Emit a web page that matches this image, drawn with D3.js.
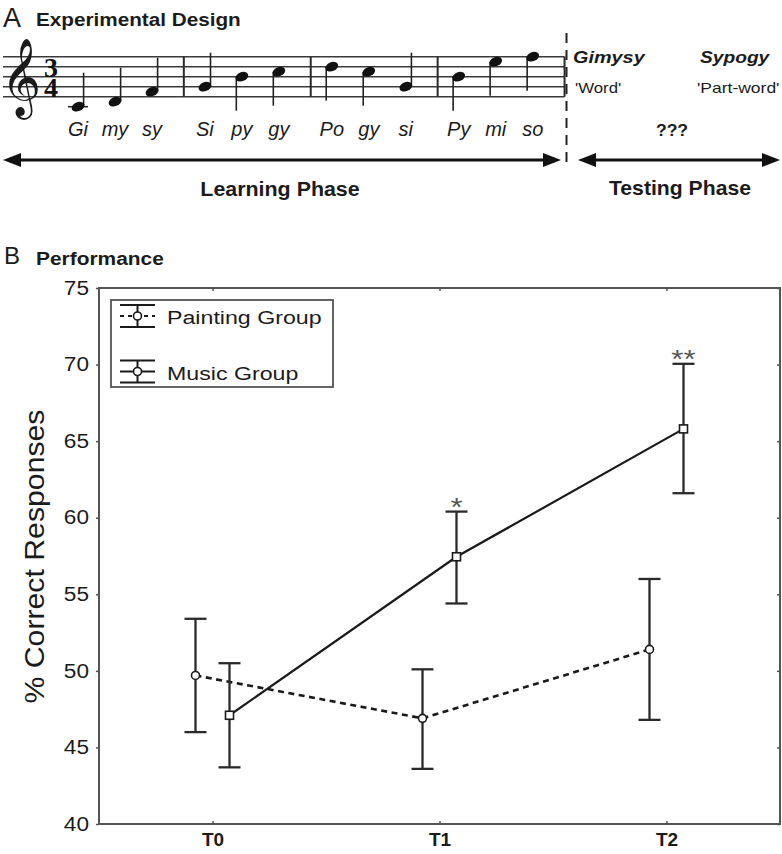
<!DOCTYPE html>
<html><head><meta charset="utf-8">
<script src="https://cdn.jsdelivr.net/npm/d3@7"></script>
<style>body{margin:0;background:#fff}</style>
</head><body>
<svg id="c" width="782" height="854"></svg>
<script>
// ---------- data ----------
const timepoints = ["T0", "T1", "T2"];
const paintingMean  = [49.7, 46.9, 51.4];
const paintingUpper = [53.4, 50.1, 56.0];
const paintingLower = [46.0, 43.6, 46.8];
const musicMean  = [47.1, 57.45, 65.8];
const musicUpper = [50.5, 60.4, 70.05];
const musicLower = [43.7, 54.4, 61.6];
const yTicks = [40, 45, 50, 55, 60, 65, 70, 75];
const significance = ["", "*", "**"];
const groupNames = ["Painting Group", "Music Group"];
// panel A melody
const syllables  = ["Gi","my","sy","Si","py","gy","Po","gy","si","Py","mi","so"];
const pitchSteps = [-2, -1, 1, 2, 4, 5, 6, 5, 2, 4, 7, 8]; // staff steps above bottom line (E4)
const timeSignature = ["3", "4"];
const testItems  = ["Gimysy", "Sypogy"];
const testTypes  = ["'Word'", "'Part-word'"];

const FONT = "'Liberation Sans', Arial, Helvetica, sans-serif";
const INK = "#1b1b1b";
const svg = d3.select("#c");

function label(g, o) {
  const t = g.append("text")
    .attr("transform", `translate(${o.x},${o.y})${o.rotate ? ` rotate(${o.rotate})` : ""} scale(${o.sx || 1},1)`)
    .attr("font-family", o.family || FONT)
    .attr("font-size", o.size)
    .attr("font-weight", o.weight || "normal")
    .attr("font-style", o.style || "normal")
    .attr("text-anchor", o.anchor || "start")
    .attr("fill", o.fill || INK)
    .text(o.text);
  if (o.dy) t.attr("dy", o.dy);
  return t;
}

// ================= Panel A =================
const A = svg.append("g");
label(A, {x: 3, y: 27, text: "A", size: 27});
label(A, {x: 36, y: 26, text: "Experimental Design", size: 19, weight: "bold", sx: 1.09});

const yStaff = d3.scaleLinear().domain([0, 8]).range([96.7, 56.7]);
const slot = (m, i) => m * 3.43 + i;
const xNote = d3.scaleLinear().domain([0, 1]).range([78, 115]);
const barX = m => xNote(slot(m, 2) + 0.86);

// staff lines
for (let k = 0; k <= 8; k += 2) {
  A.append("line").attr("x1", 3).attr("x2", barX(3))
    .attr("y1", yStaff(k)).attr("y2", yStaff(k))
    .attr("stroke", "#3a3a3a").attr("stroke-width", 1.6);
}
// bar lines
for (let m = 0; m < 4; m++) {
  A.append("line").attr("x1", barX(m)).attr("x2", barX(m))
    .attr("y1", yStaff(8)).attr("y2", yStaff(0))
    .attr("stroke", "#2a2a2a").attr("stroke-width", 2);
}
// clef
label(A, {x: 1, y: 100, text: "\u{1D11E}", size: 68, family: "'DejaVu Sans', 'Noto Sans Symbols 2', serif"});
// time signature (one text, two stacked digits)
const ts = A.append("text").attr("font-family", "'Liberation Serif', 'DejaVu Serif', serif")
  .attr("font-size", 28).attr("font-weight", "bold").attr("text-anchor", "middle").attr("fill", "#111");
ts.append("tspan").attr("x", 51).attr("y", yStaff(4)).text(timeSignature[0]);
ts.append("tspan").attr("x", 51).attr("y", yStaff(0)).text(timeSignature[1]);

// notes
syllables.forEach((s, n) => {
  const m = Math.floor(n / 3), i = n % 3;
  const x = xNote(slot(m, i));
  const st = pitchSteps[n];
  const y = yStaff(st);
  if (st <= -2) {
    A.append("line").attr("x1", x - 10).attr("x2", x + 10)
      .attr("y1", yStaff(-2)).attr("y2", yStaff(-2))
      .attr("stroke", "#2a2a2a").attr("stroke-width", 1.6);
  }
  const up = st < 4;
  const sxp = up ? x + 5.6 : x - 5.6;
  A.append("line").attr("x1", sxp).attr("x2", sxp)
    .attr("y1", y).attr("y2", up ? y - 34 : y + 34)
    .attr("stroke", "#222").attr("stroke-width", 1.6);
  A.append("ellipse").attr("cx", x).attr("cy", y).attr("rx", 6.6).attr("ry", 4.5)
    .attr("transform", `rotate(-22,${x},${y})`).attr("fill", "#111");
  label(A, {x: x, y: 136, text: s, size: 20, style: "italic", anchor: "middle"});
});

// dashed divider
A.append("line").attr("x1", 566.5).attr("x2", 566.5).attr("y1", 33).attr("y2", 168)
  .attr("stroke", "#222").attr("stroke-width", 2).attr("stroke-dasharray", "10,7");

// test items
label(A, {x: 573, y: 63, text: testItems[0], size: 16, weight: "bold", style: "italic", sx: 1.24});
label(A, {x: 700, y: 63, text: testItems[1], size: 16, weight: "bold", style: "italic", sx: 1.2});
label(A, {x: 575, y: 93, text: testTypes[0], size: 14, sx: 1.2});
label(A, {x: 697, y: 93, text: testTypes[1], size: 14, sx: 1.25});
label(A, {x: 672, y: 136, text: "???", size: 16, weight: "bold", anchor: "middle", sx: 1.1});

// arrows
function dblArrow(g, x1, x2, y) {
  g.append("line").attr("x1", x1 + 10).attr("x2", x2 - 10).attr("y1", y).attr("y2", y)
    .attr("stroke", "#111").attr("stroke-width", 3);
  g.append("path").attr("d", `M${x1},${y} L${x1 + 18},${y - 7} L${x1 + 18},${y + 7} Z`).attr("fill", "#111");
  g.append("path").attr("d", `M${x2},${y} L${x2 - 18},${y - 7} L${x2 - 18},${y + 7} Z`).attr("fill", "#111");
}
dblArrow(A, 3, 561, 160);
dblArrow(A, 578, 780, 160);
label(A, {x: 280, y: 196, text: "Learning Phase", size: 20, weight: "bold", anchor: "middle", sx: 1.07});
label(A, {x: 680, y: 195, text: "Testing Phase", size: 20, weight: "bold", anchor: "middle", sx: 1.06});

// ================= Panel B =================
const B = svg.append("g");
label(B, {x: 4, y: 264, text: "B", size: 24});
label(B, {x: 36, y: 265, text: "Performance", size: 19, weight: "bold", sx: 1.1});

const L = 99, R = 780, T = 288, Bt = 824;
const x = d3.scalePoint().domain(timepoints).range([L, R]).padding(0.5);
const y = d3.scaleLinear().domain([40, 75]).range([Bt, T]);
const AX = "#555";

// frame
B.append("rect").attr("x", L).attr("y", T).attr("width", R - L).attr("height", Bt - T)
  .attr("fill", "none").attr("stroke", AX).attr("stroke-width", 2);

const gl = B.append("g").attr("transform", `translate(${L},0)`)
  .call(d3.axisLeft(y).tickValues(yTicks).tickSize(3).tickFormat(d3.format("d")));
gl.select(".domain").remove();
gl.selectAll("line").attr("stroke", AX).attr("stroke-width", 1.5);
gl.selectAll("text").attr("x", -10 / 1.16).attr("transform", "scale(1.16,1)")
  .attr("font-family", FONT).attr("font-size", 19.5).attr("fill", INK);

const gr = B.append("g").attr("transform", `translate(${R},0)`)
  .call(d3.axisRight(y).tickValues(yTicks).tickSize(-3).tickFormat(""));
gr.select(".domain").remove();
gr.selectAll("line").attr("stroke", AX).attr("stroke-width", 1.5);

const gt = B.append("g").attr("transform", `translate(0,${T})`)
  .call(d3.axisTop(x).tickSize(-3).tickFormat(""));
gt.select(".domain").remove();
gt.selectAll("line").attr("stroke", AX).attr("stroke-width", 1.5);

const gb = B.append("g").attr("transform", `translate(0,${Bt})`)
  .call(d3.axisBottom(x).tickSize(-3).tickPadding(10));
gb.select(".domain").remove();
gb.selectAll("line").attr("stroke", AX).attr("stroke-width", 1.5);
gb.selectAll("text").attr("font-family", FONT).attr("font-size", 19)
  .attr("font-weight", "bold").attr("fill", INK).attr("y", 9);

// y label
label(B, {x: 44, y: 556.5, rotate: -90, text: "% Correct Responses", size: 28, anchor: "middle", sx: 1.08});

// series
const OFF = 17;
const series = [
  {mean: paintingMean, up: paintingUpper, lo: paintingLower, dx: -OFF, dash: "6,4.5", marker: "circle"},
  {mean: musicMean, up: musicUpper, lo: musicLower, dx: OFF, dash: null, marker: "square"}
];
const CAP = 11;
series.forEach(s => {
  const pts = timepoints.map((t, i) => ({t, i, cx: x(t) + s.dx}));
  // error bars
  pts.forEach(p => {
    const yU = y(s.up[p.i]), yL = y(s.lo[p.i]);
    B.append("line").attr("x1", p.cx).attr("x2", p.cx).attr("y1", yU).attr("y2", yL)
      .attr("stroke", "#2a2a2a").attr("stroke-width", 2.3);
    [yU, yL].forEach(yy => B.append("line").attr("x1", p.cx - CAP).attr("x2", p.cx + CAP)
      .attr("y1", yy).attr("y2", yy).attr("stroke", "#2a2a2a").attr("stroke-width", 2.3));
  });
  // line
  const ln = d3.line().x(p => p.cx).y(p => y(s.mean[p.i]));
  const path = B.append("path").attr("d", ln(pts)).attr("fill", "none")
    .attr("stroke", "#1a1a1a").attr("stroke-width", 2.2);
  if (s.dash) path.attr("stroke-dasharray", s.dash).attr("stroke-width", 2.6);
  // markers
  pts.forEach(p => {
    const cy = y(s.mean[p.i]);
    if (s.marker === "circle") {
      B.append("circle").attr("cx", p.cx).attr("cy", cy).attr("r", 4)
        .attr("fill", "#fff").attr("stroke", "#1a1a1a").attr("stroke-width", 1.6);
    } else {
      B.append("rect").attr("x", p.cx - 4).attr("y", cy - 4).attr("width", 8).attr("height", 8)
        .attr("fill", "#fff").attr("stroke", "#1a1a1a").attr("stroke-width", 1.6);
    }
  });
});

// significance stars (music group)
timepoints.forEach((t, i) => {
  if (!significance[i]) return;
  label(B, {x: x(t) + OFF, y: y(musicUpper[i]) + 4, text: significance[i], size: 26,
    anchor: "middle", fill: "#555", sx: 1.2});
});

// legend
B.append("rect").attr("x", 111).attr("y", 300).attr("width", 222).attr("height", 87)
  .attr("fill", "#fff").attr("stroke", AX).attr("stroke-width", 1.8);
const legendRows = [
  {name: groupNames[0], yc: 316, dash: "4,4"},
  {name: groupNames[1], yc: 371.5, dash: null}
];
legendRows.forEach(r => {
  const cx = 137.5;
  const h = B.append("line").attr("x1", 120).attr("x2", 155).attr("y1", r.yc).attr("y2", r.yc)
    .attr("stroke", "#1a1a1a").attr("stroke-width", 1.8);
  if (r.dash) h.attr("stroke-dasharray", r.dash);
  B.append("line").attr("x1", cx).attr("x2", cx).attr("y1", r.yc - 11).attr("y2", r.yc + 11)
    .attr("stroke", "#1a1a1a").attr("stroke-width", 2);
  [r.yc - 11, r.yc + 11].forEach(yy => B.append("line").attr("x1", 120).attr("x2", 155)
    .attr("y1", yy).attr("y2", yy).attr("stroke", "#1a1a1a").attr("stroke-width", 2));
  B.append("circle").attr("cx", cx).attr("cy", r.yc).attr("r", 4)
    .attr("fill", "#fff").attr("stroke", "#1a1a1a").attr("stroke-width", 1.6);
  label(B, {x: 167, y: r.yc + 8, text: r.name, size: 19, sx: 1.22});
});
</script>
</body></html>
